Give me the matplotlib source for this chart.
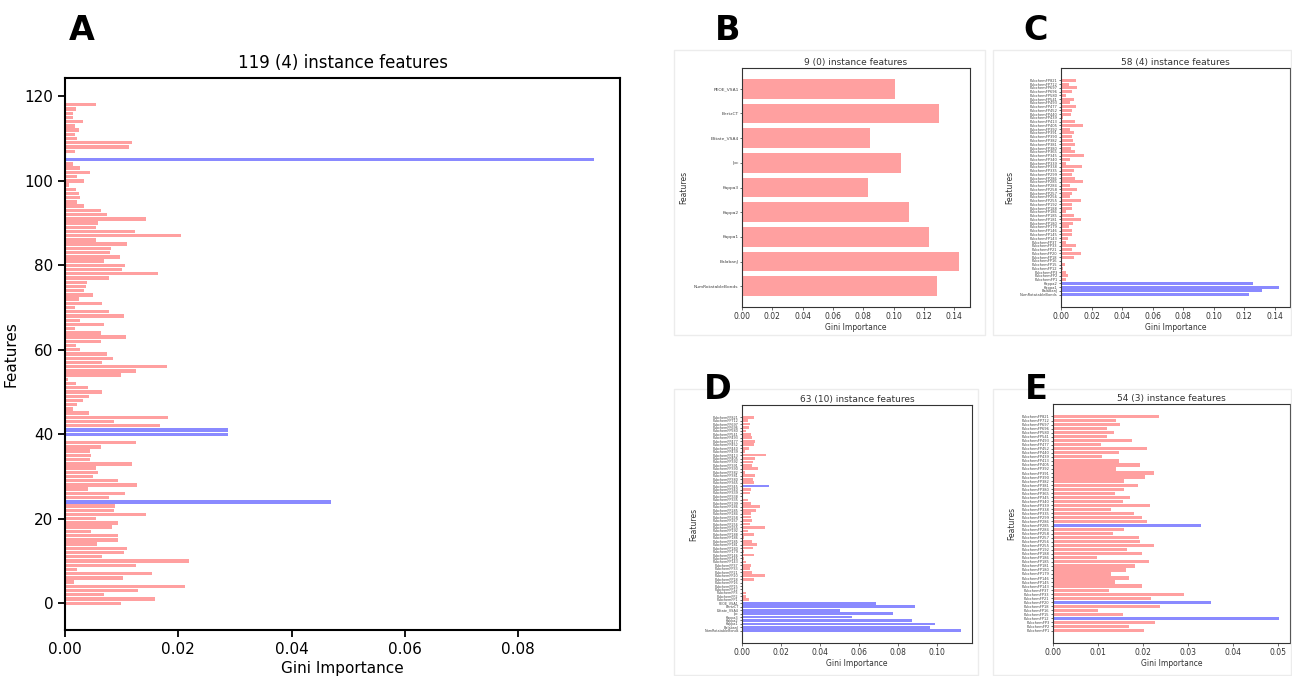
import matplotlib
matplotlib.use('Agg')
import matplotlib.pyplot as plt
from matplotlib.patches import Rectangle

W, H = 1292, 676
RED = '#ffa0a0'
BLUE = '#8a8aff'

# Panel A: 119 features, 4 instance features (highlighted)
A_VALUES = [0.0099, 0.0158, 0.0068, 0.0128, 0.0212, 0.0016, 0.0103, 0.0153, 0.0021, 0.0126,
            0.0218, 0.0066, 0.0105, 0.0109, 0.0057, 0.0094, 0.0093, 0.0046, 0.0083, 0.0093,
            0.0054, 0.0143, 0.0086, 0.0088, 0.0470, 0.0077, 0.0106, 0.0041, 0.0127, 0.0093,
            0.0050, 0.0059, 0.0054, 0.0119, 0.0044, 0.0046, 0.0045, 0.0063, 0.0125, 0.0002,
            0.0287, 0.0287, 0.0168, 0.0087, 0.0182, 0.0042, 0.0015, 0.0021, 0.0031, 0.0042,
            0.0066, 0.0041, 0.0019, 0.0005, 0.0099, 0.0125, 0.0180, 0.0065, 0.0084, 0.0074,
            0.0027, 0.0019, 0.0064, 0.0108, 0.0064, 0.0017, 0.0069, 0.0027, 0.0104, 0.0077,
            0.0018, 0.0065, 0.0025, 0.0050, 0.0034, 0.0037, 0.0038, 0.0077, 0.0164, 0.0101,
            0.0106, 0.0068, 0.0097, 0.0080, 0.0081, 0.0109, 0.0054, 0.0204, 0.0123, 0.0054,
            0.0058, 0.0143, 0.0075, 0.0063, 0.0034, 0.0022, 0.0027, 0.0025, 0.0019, 0.0007,
            0.0034, 0.0022, 0.0044, 0.0027, 0.0015, 0.0933, 0.0002, 0.0018, 0.0113, 0.0119,
            0.0021, 0.0018, 0.0024, 0.0018, 0.0031, 0.0015, 0.0015, 0.0019, 0.0055]
A_HIGHLIGHT = [24, 40, 41, 105]

# Descriptor names (bottom to top)
DESCRIPTORS = ['NumRotatableBonds', 'BalabanJ', 'Kappa1', 'Kappa2', 'Kappa3',
               'Ipc', 'EState_VSA4', 'BertzCT', 'PEOE_VSA1']
FP_IDS = [1, 2, 3, 12, 15, 16, 18, 20, 21, 33,
          37, 143, 145, 146, 179, 180, 181, 185, 186, 188,
          192, 255, 256, 257, 258, 284, 285, 286, 299, 335,
          338, 339, 340, 345, 365, 380, 381, 382, 390, 391,
          392, 405, 413, 439, 440, 452, 477, 493, 541, 580,
          696, 697, 712, 821]
FP_NAMES = ['PubchemFP%d' % i for i in FP_IDS]

# Panel B: 9 descriptors, none highlighted
B_VALUES = [0.1284, 0.1433, 0.1236, 0.1100, 0.0830, 0.1048, 0.0843, 0.1300, 0.1007]

# Panel C: 4 descriptors + 54 fingerprints
C_VALUES = [0.123, 0.132, 0.143, 0.126,
            0.0035, 0.0047, 0.0032, 0.0013, 0.0024, 0.0004, 0.0088, 0.0134, 0.0069, 0.0099,
            0.0035, 0.0043, 0.0069, 0.0071, 0.0052, 0.0078, 0.0132, 0.0082, 0.0035, 0.0071,
            0.0071, 0.0132, 0.0056, 0.0071, 0.0108, 0.0060, 0.0143, 0.0093, 0.0071, 0.0086,
            0.0136, 0.0035, 0.0060, 0.0153, 0.0095, 0.0067, 0.0090, 0.0078, 0.0073, 0.0082,
            0.0060, 0.0143, 0.0093, 0.0013, 0.0067, 0.0069, 0.0099, 0.0060, 0.0086, 0.0035,
            0.0073, 0.0104, 0.0050, 0.0099]
C_HIGHLIGHT = [0, 1, 2, 3]

# Panel D: 9 descriptors + 54 fingerprints
D_VALUES = [0.1123, 0.0962, 0.0991, 0.0872, 0.0564, 0.0774, 0.0504, 0.0889, 0.0687,
            0.0036, 0.0022, 0.0019, 0.0005, 0.0005, 0.0005, 0.0063, 0.0120, 0.0051, 0.0039,
            0.0048, 0.0022, 0.0012, 0.0063, 0.0009, 0.0055, 0.0077, 0.0051, 0.0012, 0.0063,
            0.0029, 0.0120, 0.0043, 0.0051, 0.0048, 0.0048, 0.0072, 0.0094, 0.0048, 0.0029,
            0.0005, 0.0039, 0.0048, 0.0138, 0.0063, 0.0056, 0.0068, 0.0017, 0.0082, 0.0051,
            0.0056, 0.0068, 0.0125, 0.0017, 0.0038, 0.0060, 0.0065, 0.0051, 0.0048, 0.0022,
            0.0038, 0.0043, 0.0029, 0.0060]
D_HIGHLIGHT = [0, 1, 2, 3, 4, 5, 6, 7, 8, 42]

# Panel E: 54 fingerprints
E_VALUES = [0.0203, 0.0169, 0.0226, 0.0502, 0.0156, 0.0100, 0.0239, 0.0351, 0.0217, 0.0291,
            0.0125, 0.0198, 0.0138, 0.0168, 0.0130, 0.0163, 0.0183, 0.0214, 0.0098, 0.0197,
            0.0165, 0.0225, 0.0194, 0.0192, 0.0134, 0.0159, 0.0330, 0.0210, 0.0199, 0.0180,
            0.0130, 0.0216, 0.0156, 0.0172, 0.0138, 0.0158, 0.0188, 0.0158, 0.0204, 0.0225,
            0.0141, 0.0194, 0.0146, 0.0109, 0.0146, 0.0209, 0.0107, 0.0175, 0.0120, 0.0136,
            0.0120, 0.0150, 0.0141, 0.0236]
E_HIGHLIGHT = [3, 7, 26]


def rect(l, t, r, b):
    return [l / W, 1 - b / H, (r - l) / W, (b - t) / H]


def bars(ax, values, highlight, height):
    colors = [BLUE if i in highlight else RED for i in range(len(values))]
    ax.barh(range(len(values)), values, height=height, color=colors)


def small_panel(ax, values, highlight, names, title, label_size):
    bars(ax, values, highlight, 0.8)
    ax.set_yticks(range(len(values)))
    ax.set_yticklabels(names, fontsize=label_size, color='#444444')
    ax.set_title(title, fontsize=6.5, pad=2.5, color='#333333')
    ax.set_xlabel('Gini Importance', fontsize=5.5, labelpad=1.5, color='#333333')
    ax.set_ylabel('Features', fontsize=5.5, labelpad=4, color='#333333')
    ax.tick_params(axis='x', labelsize=5.5, length=2, width=0.5, pad=1.5, colors='#333333')
    ax.tick_params(axis='y', length=1.5, width=0.4, pad=1)
    for s in ax.spines.values():
        s.set_linewidth(0.8)
        s.set_color('#333333')


fig = plt.figure(figsize=(W / 100, H / 100), dpi=100)

# light frames around the small figures
for l, t, r, b in [(674, 50, 985, 335), (993, 50, 1291, 335),
                   (674, 389, 978, 675), (993, 389, 1291, 675)]:
    fig.patches.append(Rectangle((l / W, 1 - b / H), (r - l) / W, (b - t) / H,
                                 transform=fig.transFigure, fill=False,
                                 edgecolor='#ececec', linewidth=1))

# Panel A
axA = fig.add_axes(rect(65, 78, 620, 630))
bars(axA, A_VALUES, A_HIGHLIGHT, 0.8)
axA.set_title('119 (4) instance features', fontsize=12, pad=7)
axA.set_xlabel('Gini Importance', fontsize=11, labelpad=3)
axA.set_ylabel('Features', fontsize=11, labelpad=4)
axA.tick_params(labelsize=11, width=1.3, length=5)
for s in axA.spines.values():
    s.set_linewidth(1.5)

# Panel B
axB = fig.add_axes(rect(742, 68, 970, 307))
small_panel(axB, B_VALUES, [], DESCRIPTORS, '9 (0) instance features', 3.2)

# Panel C
axC = fig.add_axes(rect(1061, 68, 1290, 307))
small_panel(axC, C_VALUES, C_HIGHLIGHT, DESCRIPTORS[:4] + FP_NAMES,
            '58 (4) instance features', 2.6)

# Panel D
axD = fig.add_axes(rect(742, 405, 972, 643))
small_panel(axD, D_VALUES, D_HIGHLIGHT, DESCRIPTORS + FP_NAMES,
            '63 (10) instance features', 2.4)

# Panel E
axE = fig.add_axes(rect(1053, 404, 1290, 643))
small_panel(axE, E_VALUES, E_HIGHLIGHT, FP_NAMES, '54 (3) instance features', 2.6)

# panel letters
for letter, x, y in [('A', 82, 30), ('B', 728, 30), ('C', 1036, 30),
                     ('D', 718, 390), ('E', 1036, 390)]:
    fig.text(x / W, 1 - y / H, letter, fontsize=24, fontweight='bold',
             ha='center', va='center')

fig.savefig('out.png', dpi=100)
